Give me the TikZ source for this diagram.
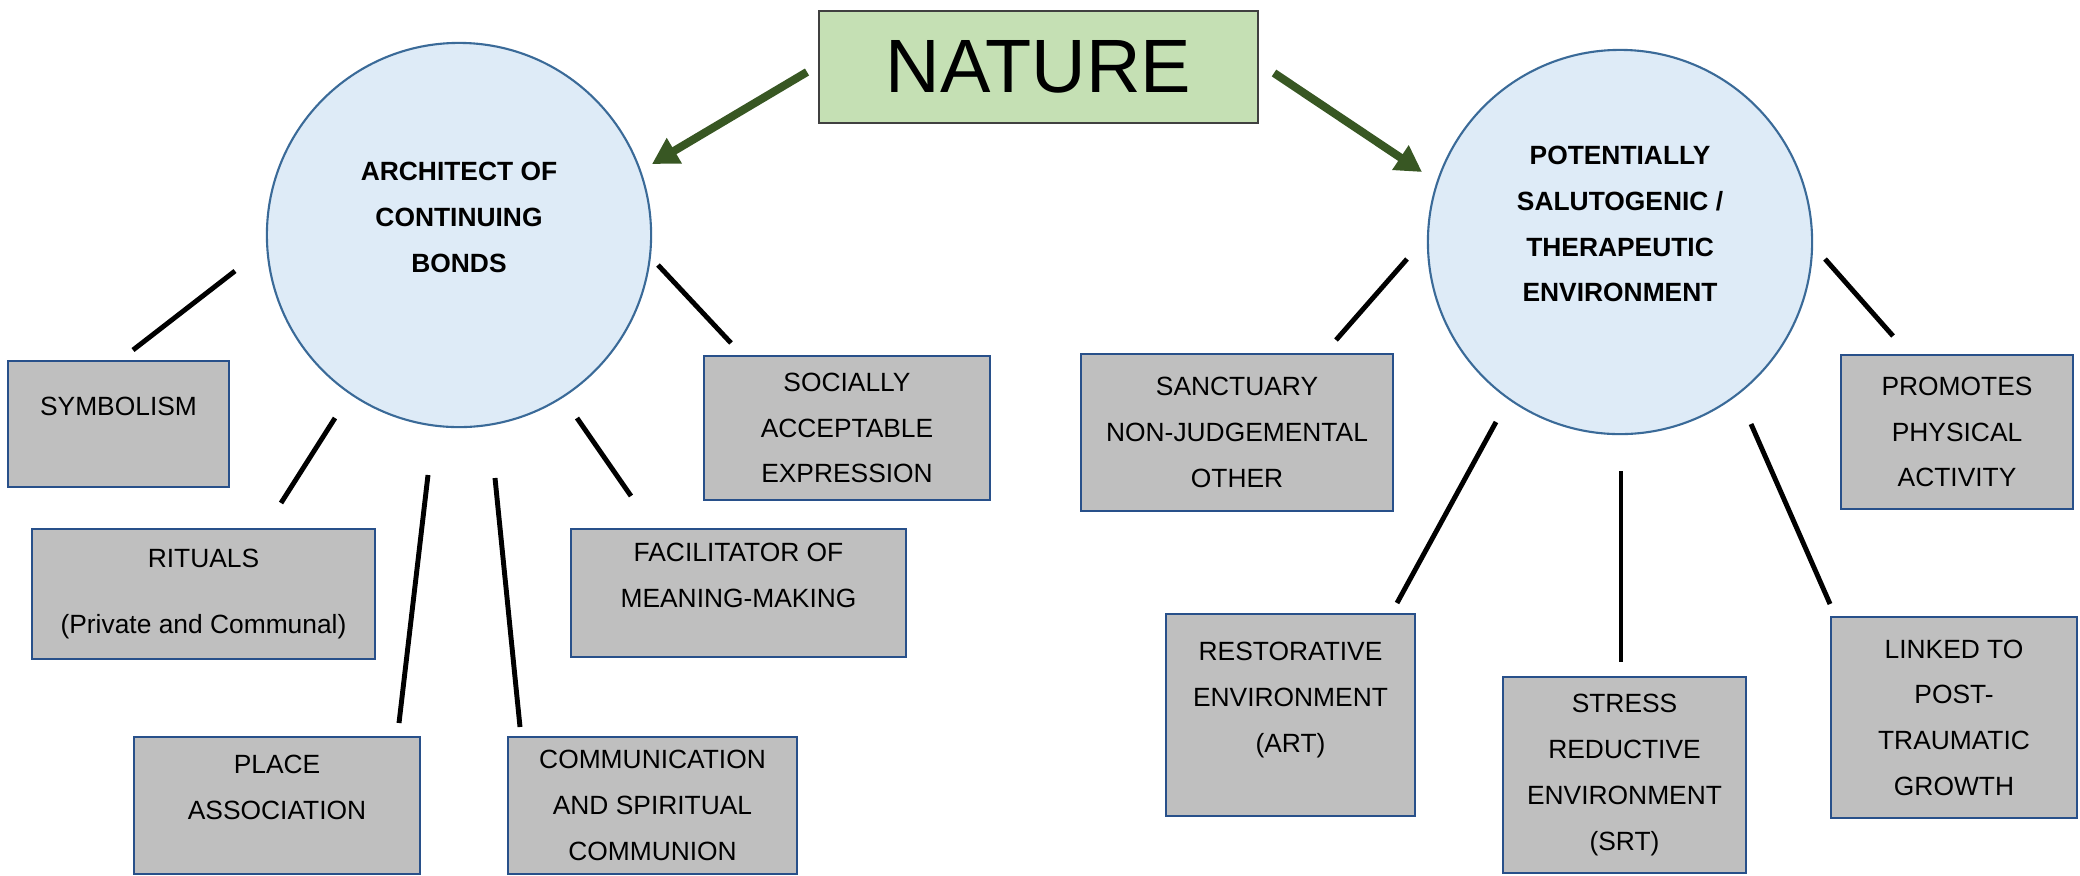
\documentclass[tikz,border=0pt]{standalone}
\usepackage{fontspec}
\setmainfont{Liberation Sans}
\usepackage{xcolor}
\usetikzlibrary{shapes,arrows.meta}

\definecolor{hubfill}{HTML}{DEEBF7}
\definecolor{hubline}{HTML}{3A6A98}
\definecolor{boxfill}{HTML}{BFBFBF}
\definecolor{boxline}{HTML}{28508A}
\definecolor{natfill}{HTML}{C5E0B4}
\definecolor{natgreen}{HTML}{385723}
\newcommand{\padlow}{\\[-2.8pt]\mbox{}}

\begin{document}
\begin{tikzpicture}[
    x=0.01cm, y=-0.01cm,
    every node/.style={font=\fontsize{7.5}{13}\selectfont},
    box/.style={rectangle, draw=boxline, fill=boxfill, line width=0.65pt, inner sep=0pt, align=center},
    hub/.style={circle, draw=hubline, fill=hubfill, line width=0.6pt, minimum size=3.84cm, inner sep=0pt, align=center, font=\fontsize{7.5}{13}\selectfont\bfseries},
    naturebox/.style={rectangle, draw=black!75, fill=natfill, line width=0.6pt, minimum width=4.39cm, minimum height=1.12cm, font=\fontsize{21.5}{25}\selectfont},
    arrow/.style={-{Triangle[length=0.26cm,width=0.28cm]}, draw=natgreen, fill=natgreen, line width=2.3pt},
    link/.style={line width=1.4pt}
]
\useasboundingbox (0,0) rectangle (2080,875);

\node[naturebox] (nature) at (1038.5,67) {NATURE};
\node[hub] (lc) at (459,235) {ARCHITECT OF\\CONTINUING\\BONDS\padlow};
\node[hub] (rc) at (1620,242) {POTENTIALLY\\SALUTOGENIC /\\THERAPEUTIC\\ENVIRONMENT\padlow};

\node[box, minimum width=2.21cm, minimum height=1.26cm] (sym) at (118.5,424) {SYMBOLISM\padlow};
\node[box, minimum width=3.43cm, minimum height=1.30cm] (rit) at (203.5,594) {RITUALS\\[6pt](Private and Communal)};
\node[box, minimum width=2.86cm, minimum height=1.37cm] (place) at (277,805.5) {PLACE\\ASSOCIATION\padlow};
\node[box, minimum width=2.89cm, minimum height=1.37cm] (comm) at (652.5,805.5) {COMMUNICATION\\AND SPIRITUAL\\COMMUNION};
\node[box, minimum width=3.35cm, minimum height=1.28cm] (facil) at (738.5,593) {FACILITATOR OF\\MEANING-MAKING\padlow};
\node[box, minimum width=2.86cm, minimum height=1.44cm] (soc) at (847,428) {SOCIALLY\\ACCEPTABLE\\EXPRESSION};

\node[box, minimum width=3.12cm, minimum height=1.57cm] (sanct) at (1237,432.5) {SANCTUARY\\NON-JUDGEMENTAL\\OTHER};
\node[box, minimum width=2.49cm, minimum height=2.02cm] (rest) at (1290.5,715) {RESTORATIVE\\ENVIRONMENT\\(ART)\padlow};
\node[box, minimum width=2.43cm, minimum height=1.96cm] (stress) at (1624.5,775) {STRESS\\REDUCTIVE\\ENVIRONMENT\\(SRT)};
\node[box, minimum width=2.46cm, minimum height=2.01cm] (linked) at (1954,717.5) {LINKED TO\\POST-\\TRAUMATIC\\GROWTH};
\node[box, minimum width=2.32cm, minimum height=1.54cm] (promo) at (1957,432) {PROMOTES\\PHYSICAL\\ACTIVITY};

\coordinate (nat-l) at (807,72);
\coordinate (lc-in) at (652,164);
\coordinate (nat-r) at (1274,73);
\coordinate (rc-in) at (1422,172);

\coordinate (lc-sym) at (235,271);   \coordinate (sym-up) at (133,350);
\coordinate (lc-rit) at (335,418);   \coordinate (rit-up) at (281,503);
\coordinate (lc-place) at (428,475); \coordinate (place-up) at (399,723);
\coordinate (lc-comm) at (495,478);  \coordinate (comm-up) at (520,727);
\coordinate (lc-facil) at (577,418); \coordinate (facil-up) at (631,496);
\coordinate (lc-soc) at (658,265);   \coordinate (soc-up) at (731,343);

\coordinate (rc-sanct) at (1407,259);  \coordinate (sanct-up) at (1336,340);
\coordinate (rc-rest) at (1496,422);   \coordinate (rest-up) at (1397,603);
\coordinate (rc-stress) at (1621,471); \coordinate (stress-up) at (1621,662);
\coordinate (rc-linked) at (1751,424); \coordinate (linked-up) at (1830,604);
\coordinate (rc-promo) at (1825,259);  \coordinate (promo-up) at (1893,336);

\draw[arrow] (nat-l) -- (lc-in);
\draw[arrow] (nat-r) -- (rc-in);

\draw[link] (lc-sym) -- (sym-up);
\draw[link] (lc-rit) -- (rit-up);
\draw[link] (lc-place) -- (place-up);
\draw[link] (lc-comm) -- (comm-up);
\draw[link] (lc-facil) -- (facil-up);
\draw[link] (lc-soc) -- (soc-up);
\draw[link] (rc-sanct) -- (sanct-up);
\draw[link] (rc-rest) -- (rest-up);
\draw[link] (rc-stress) -- (stress-up);
\draw[link] (rc-linked) -- (linked-up);
\draw[link] (rc-promo) -- (promo-up);
\end{tikzpicture}
\end{document}
